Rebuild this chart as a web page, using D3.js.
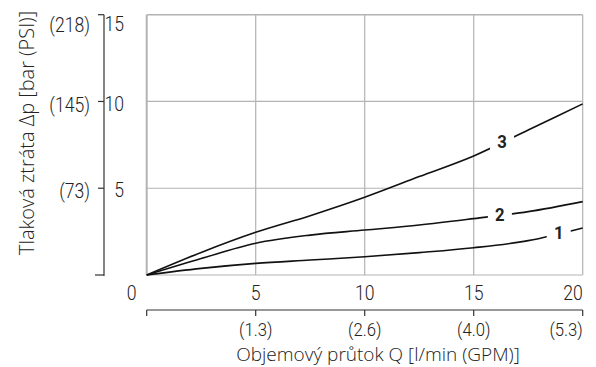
<!DOCTYPE html>
<html>
<head>
<meta charset="utf-8">
<script src="https://cdn.jsdelivr.net/npm/d3@7"></script>
<style>
  body { margin: 0; background: #fff; }
  svg { display: block; }
  .cond { font-family: Roboto, "Liberation Sans", sans-serif; }
  .title { font-family: "Open Sans", "Noto Sans", sans-serif; font-weight: 300; }
</style>
</head>
<body>
<div id="chart"></div>
<script>
// flow Q [l/min]
const flow = [0, 2.5, 5, 7.5, 10, 12.5, 15, 17.5, 20];
// pressure drop [bar] per curve
const curve1 = [0, 0.38, 0.67, 0.86, 1.05, 1.29, 1.57, 1.98, 2.71];
const curve2 = [0, 0.95, 1.83, 2.3, 2.59, 2.88, 3.25, 3.65, 4.23];
const curve3 = [0, 1.3, 2.46, 3.42, 4.48, 5.67, 6.86, 8.36, 9.86];
const curveNames = ['1', '2', '3'];
// where each curve label sits (x in l/min)
const labelAt = [18.9, 16.2, 16.3];

const barTicks = [5, 10, 15];
const psiLabels = ['(73)', '(145)', '(218)'];
const flowTicks = [5, 10, 15, 20];
const gpmLabels = ['(1.3)', '(2.6)', '(4.0)', '(5.3)'];

const width = 596, height = 367;
const svg = d3.select('#chart').append('svg')
  .attr('width', width).attr('height', height);

const x = d3.scaleLinear().domain([0, 20]).range([146.7, 582.7]);
const y = d3.scaleLinear().domain([0, 15]).range([275, 14.7]);

const grid = '#b3b3b3';
const ink = '#222';

// narrow tick text (condensed look)
function condText(g, px, py, txt, anchor, size, weight) {
  return g.append('text')
    .attr('class', 'cond')
    .attr('transform', `translate(${px},${py}) scale(0.88,1)`)
    .attr('dy', '0.36em')
    .attr('text-anchor', anchor)
    .style('font-size', size + 'px')
    .style('font-weight', weight || 300)
    .attr('fill', ink)
    .text(txt);
}

// grid + frame
svg.append('g').selectAll('line')
  .data([0, ...flowTicks])
  .join('line')
  .attr('x1', d => x(d)).attr('x2', d => x(d))
  .attr('y1', y(0)).attr('y2', y(15))
  .attr('stroke', grid).attr('stroke-width', d => d === 0 ? 2 : 1.2);
svg.append('g').selectAll('line')
  .data([0, ...barTicks])
  .join('line')
  .attr('x1', x(0)).attr('x2', x(20))
  .attr('y1', d => y(d)).attr('y2', d => y(d))
  .attr('stroke', grid).attr('stroke-width', d => d === 15 ? 1.6 : 1.2);

// curves
const line = d3.line().x((d, i) => x(flow[i])).y(d => y(d)).curve(d3.curveMonotoneX);
const series = [curve1, curve2, curve3];
svg.append('g').selectAll('path')
  .data(series)
  .join('path')
  .attr('d', line)
  .attr('fill', 'none')
  .attr('stroke', '#111')
  .attr('stroke-width', 1.6);

// curve labels with white gap
series.forEach((s, k) => {
  const q = labelAt[k];
  const v = d3.scaleLinear().domain(flow).range(s)(q);
  const g = svg.append('g');
  g.append('rect')
    .attr('x', x(q) - 12).attr('y', y(v) - 10)
    .attr('width', 24).attr('height', 20).attr('fill', '#fff');
  condText(g, x(q), y(v) - 1, curveNames[k], 'middle', 19, 'bold');
});

// left axis (bar / PSI)
const ax = 104;
const yAxis = svg.append('g');
yAxis.append('line')
  .attr('x1', ax).attr('x2', ax)
  .attr('y1', y(0) + 1).attr('y2', y(15))
  .attr('stroke', '#333').attr('stroke-width', 1.2);
yAxis.selectAll('.tk')
  .data([0, ...barTicks])
  .join('line')
  .attr('x1', d => d === 0 ? ax - 9 : ax - 6).attr('x2', ax)
  .attr('y1', d => y(d)).attr('y2', d => y(d))
  .attr('stroke', '#333').attr('stroke-width', 1.2);
barTicks.forEach((d, i) => {
  const off = d === 15 ? 9 : 2;
  condText(yAxis, 124, y(d) + off, d, 'end', 20);
  condText(yAxis, 90, y(d) + off + 1, psiLabels[i], 'end', 20);
});

// bottom axis (l/min / GPM)
const by = 310;
const xAxis = svg.append('g');
xAxis.append('line')
  .attr('x1', x(0)).attr('x2', x(20))
  .attr('y1', by).attr('y2', by)
  .attr('stroke', '#333').attr('stroke-width', 1.2);
xAxis.selectAll('.tk')
  .data([0, ...flowTicks])
  .join('line')
  .attr('x1', d => x(d)).attr('x2', d => x(d))
  .attr('y1', by).attr('y2', by + 6)
  .attr('stroke', '#333').attr('stroke-width', 1.2);
flowTicks.forEach((d, i) => {
  const anchor = d === 20 ? 'end' : 'middle';
  condText(xAxis, x(d), 293, d, anchor, 20);
  condText(xAxis, x(d), 329, gpmLabels[i], anchor, 19);
});
condText(xAxis, x(0) - 15, 293, '0', 'middle', 20);

// axis titles
svg.append('text')
  .attr('class', 'title')
  .attr('x', 378).attr('y', 361)
  .attr('text-anchor', 'middle')
  .style('font-size', '19px').attr('fill', ink)
  .text('Objemový průtok Q [l/min (GPM)]');
svg.append('text')
  .attr('class', 'title')
  .attr('transform', 'translate(34,133) rotate(-90)')
  .attr('text-anchor', 'middle')
  .style('font-size', '20px').attr('fill', ink)
  .text('Tlaková ztráta Δp [bar (PSI)]');
</script>
</body>
</html>
